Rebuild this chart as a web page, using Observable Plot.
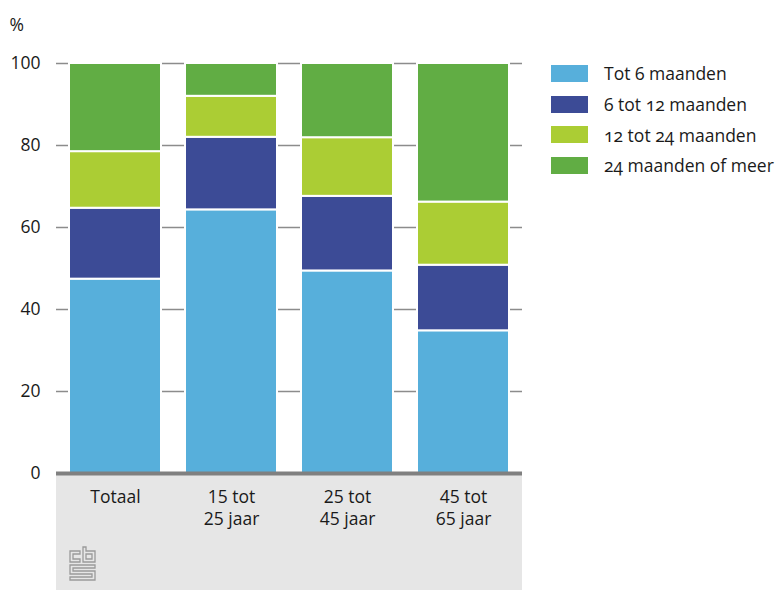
<!DOCTYPE html>
<html>
<head>
<meta charset="utf-8">
<script src="https://cdn.jsdelivr.net/npm/d3@7"></script>
<script src="https://cdn.jsdelivr.net/npm/@observablehq/plot@0.6"></script>
<style>
  html, body { margin: 0; padding: 0; background: #fff; }
  #wrap { position: relative; width: 782px; height: 590px; font-family: "Open Sans", Lato, sans-serif; }
  #axisbg { position: absolute; left: 56px; top: 473px; width: 466px; height: 117px; background: #e6e6e6; }
  #chart { position: absolute; left: 0; top: 0; }
  #chart svg { background: transparent !important; }
  #legend { position: absolute; left: 551px; top: 58px; font-size: 17.5px; color: #1a1a1a; font-variant-numeric: oldstyle-nums; }
  .row { display: flex; align-items: center; height: 30.7px; }
  .sw { width: 37px; height: 17px; margin-right: 16px; }
  #logo { position: absolute; left: 69px; top: 546px; }
</style>
</head>
<body>
<div id="wrap">
  <div id="axisbg"></div>
  <div id="chart"></div>
  <div id="legend"></div>
  <svg id="logo" width="28" height="35" viewBox="0 0 28 35" fill="none" stroke="#9a9a9a" stroke-width="1.3">
    <path d="M1 5 H11 V8 H4 V13 H11 V16 H1 Z"/>
    <path d="M14 1 H17 V5 H26 V16 H14 Z M17 8 V13 H23 V8 Z"/>
    <path d="M1 19 H26 V22 H4 V25 H26 V34 H1 V31 H23 V28 H1 Z"/>
  </svg>
</div>
<script>
const groups = ["Totaal", "15 tot\n25 jaar", "25 tot\n45 jaar", "45 tot\n65 jaar"];
const series = ["Tot 6 maanden", "6 tot 12 maanden", "12 tot 24 maanden", "24 maanden of meer"];
const colors = ["#57afdb", "#3c4b96", "#abcd34", "#61ad44"];
const tot6 = [47.4, 64.3, 49.4, 34.8];
const tot12 = [17.3, 17.7, 18.2, 16.0];
const tot24 = [13.8, 10.0, 14.3, 15.4];
const meer24 = [21.5, 8.0, 18.1, 33.8];
const yTicks = [0, 20, 40, 60, 80, 100];

const seriesValues = [tot6, tot12, tot24, meer24];
const data = [];
groups.forEach((g, i) => {
  series.forEach((s, j) => data.push({group: g, series: s, value: seriesValues[j][i]}));
});

const chart = Plot.plot({
  width: 782,
  height: 590,
  marginLeft: 56,
  marginRight: 260,
  marginTop: 63,
  marginBottom: 117,
  style: {fontFamily: "'Open Sans', Lato, sans-serif", fontSize: "17.5px", color: "#1a1a1a", background: "transparent"},
  x: {domain: groups, paddingInner: 0.21, paddingOuter: 0.105},
  y: {domain: [0, 100]},
  color: {domain: series, range: colors},
  marks: [
    Plot.gridY(yTicks, {stroke: "#8c8c8c", strokeOpacity: 1, strokeWidth: 1.5}),
    Plot.barY(data, Plot.stackY({x: "group", y: "value", fill: "series", order: series, stroke: "white", strokeWidth: 2})),
    Plot.ruleY([0], {stroke: "#808080", strokeWidth: 4}),
    Plot.axisY(yTicks, {tickSize: 0, tickPadding: 16, label: null, fontSize: 17.5}),
    Plot.axisX({tickSize: 0, tickPadding: 13, label: null, fontSize: 17.5, lineHeight: 1.3}),
    Plot.text(["%"], {frameAnchor: "top-left", dx: -47, dy: -45, textAnchor: "start", fontSize: 17.5})
  ]
});
document.getElementById("chart").appendChild(chart);

const legend = document.getElementById("legend");
series.forEach((s, j) => {
  const row = document.createElement("div");
  row.className = "row";
  const sw = document.createElement("div");
  sw.className = "sw";
  sw.style.background = colors[j];
  const t = document.createElement("span");
  t.textContent = s;
  row.appendChild(sw);
  row.appendChild(t);
  legend.appendChild(row);
});
</script>
</body>
</html>
